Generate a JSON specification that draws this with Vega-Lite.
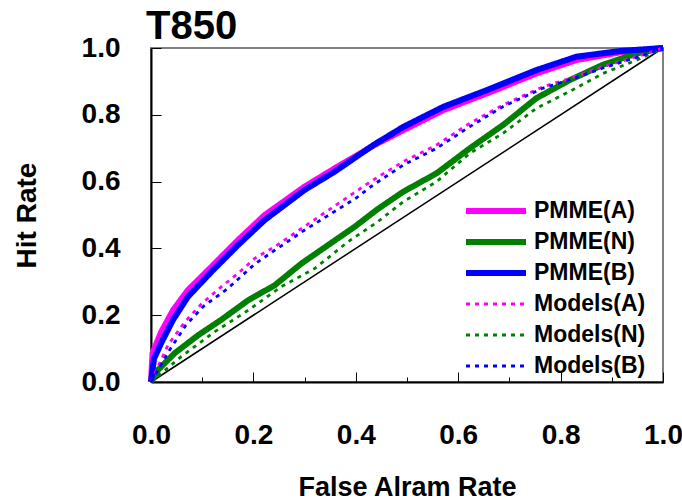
{
  "$schema": "https://vega.github.io/schema/vega-lite/v6.json",
  "autosize": {"type": "none"},
  "width": 512,
  "height": 334,
  "padding": {"left": 151, "top": 48, "right": 19, "bottom": 120},
  "background": "white",
  "config": {
    "font": "Liberation Sans",
    "view": {"stroke": "#808080", "strokeWidth": 2}
  },
  "title": {
    "text": "T850",
    "anchor": "start",
    "frame": "group",
    "fontSize": 40,
    "fontWeight": "bold",
    "font": "Liberation Sans",
    "color": "black",
    "offset": -13,
    "dx": -5
  },
  "datasets": {
    "diag": [{"far": 0, "hr": 0}, {"far": 1, "hr": 1}],
    "roc": [
      {"series": "PMME(A)", "far": 0, "hr": 0},
      {"series": "PMME(A)", "far": 0.003, "hr": 0.087},
      {"series": "PMME(A)", "far": 0.02, "hr": 0.15},
      {"series": "PMME(A)", "far": 0.043, "hr": 0.215},
      {"series": "PMME(A)", "far": 0.072, "hr": 0.275},
      {"series": "PMME(A)", "far": 0.118, "hr": 0.345},
      {"series": "PMME(A)", "far": 0.17, "hr": 0.425},
      {"series": "PMME(A)", "far": 0.222, "hr": 0.5},
      {"series": "PMME(A)", "far": 0.3, "hr": 0.585},
      {"series": "PMME(A)", "far": 0.359, "hr": 0.64},
      {"series": "PMME(A)", "far": 0.437, "hr": 0.71},
      {"series": "PMME(A)", "far": 0.493, "hr": 0.754},
      {"series": "PMME(A)", "far": 0.571, "hr": 0.814},
      {"series": "PMME(A)", "far": 0.656, "hr": 0.864},
      {"series": "PMME(A)", "far": 0.753, "hr": 0.924},
      {"series": "PMME(A)", "far": 0.831, "hr": 0.964},
      {"series": "PMME(A)", "far": 0.916, "hr": 0.987},
      {"series": "PMME(A)", "far": 1, "hr": 1},

      {"series": "PMME(N)", "far": 0, "hr": 0},
      {"series": "PMME(N)", "far": 0.0137, "hr": 0.036},
      {"series": "PMME(N)", "far": 0.046, "hr": 0.086},
      {"series": "PMME(N)", "far": 0.092, "hr": 0.14},
      {"series": "PMME(N)", "far": 0.137, "hr": 0.186},
      {"series": "PMME(N)", "far": 0.19, "hr": 0.245},
      {"series": "PMME(N)", "far": 0.242, "hr": 0.29},
      {"series": "PMME(N)", "far": 0.294, "hr": 0.355},
      {"series": "PMME(N)", "far": 0.346, "hr": 0.41},
      {"series": "PMME(N)", "far": 0.398, "hr": 0.465},
      {"series": "PMME(N)", "far": 0.443, "hr": 0.518},
      {"series": "PMME(N)", "far": 0.493, "hr": 0.57},
      {"series": "PMME(N)", "far": 0.558, "hr": 0.625},
      {"series": "PMME(N)", "far": 0.623, "hr": 0.7},
      {"series": "PMME(N)", "far": 0.688, "hr": 0.77},
      {"series": "PMME(N)", "far": 0.753, "hr": 0.85},
      {"series": "PMME(N)", "far": 0.818, "hr": 0.904},
      {"series": "PMME(N)", "far": 0.883, "hr": 0.95},
      {"series": "PMME(N)", "far": 0.949, "hr": 0.984},
      {"series": "PMME(N)", "far": 1, "hr": 1},

      {"series": "PMME(B)", "far": 0, "hr": 0},
      {"series": "PMME(B)", "far": 0.006, "hr": 0.07},
      {"series": "PMME(B)", "far": 0.02, "hr": 0.117},
      {"series": "PMME(B)", "far": 0.043, "hr": 0.186},
      {"series": "PMME(B)", "far": 0.072, "hr": 0.255},
      {"series": "PMME(B)", "far": 0.118, "hr": 0.33},
      {"series": "PMME(B)", "far": 0.17, "hr": 0.41},
      {"series": "PMME(B)", "far": 0.222, "hr": 0.485},
      {"series": "PMME(B)", "far": 0.3, "hr": 0.575},
      {"series": "PMME(B)", "far": 0.359, "hr": 0.63},
      {"series": "PMME(B)", "far": 0.437, "hr": 0.712},
      {"series": "PMME(B)", "far": 0.493, "hr": 0.764},
      {"series": "PMME(B)", "far": 0.571, "hr": 0.824},
      {"series": "PMME(B)", "far": 0.656, "hr": 0.874},
      {"series": "PMME(B)", "far": 0.753, "hr": 0.934},
      {"series": "PMME(B)", "far": 0.831, "hr": 0.974},
      {"series": "PMME(B)", "far": 0.916, "hr": 0.991},
      {"series": "PMME(B)", "far": 1, "hr": 1},

      {"series": "Models(A)", "far": 0, "hr": 0},
      {"series": "Models(A)", "far": 0.033, "hr": 0.11},
      {"series": "Models(A)", "far": 0.066, "hr": 0.18},
      {"series": "Models(A)", "far": 0.1, "hr": 0.236},
      {"series": "Models(A)", "far": 0.141, "hr": 0.29},
      {"series": "Models(A)", "far": 0.17, "hr": 0.325},
      {"series": "Models(A)", "far": 0.2025, "hr": 0.37},
      {"series": "Models(A)", "far": 0.242, "hr": 0.405},
      {"series": "Models(A)", "far": 0.297, "hr": 0.463},
      {"series": "Models(A)", "far": 0.352, "hr": 0.52},
      {"series": "Models(A)", "far": 0.395, "hr": 0.565},
      {"series": "Models(A)", "far": 0.434, "hr": 0.605},
      {"series": "Models(A)", "far": 0.493, "hr": 0.66},
      {"series": "Models(A)", "far": 0.558, "hr": 0.71},
      {"series": "Models(A)", "far": 0.623, "hr": 0.775},
      {"series": "Models(A)", "far": 0.688, "hr": 0.83},
      {"series": "Models(A)", "far": 0.766, "hr": 0.884},
      {"series": "Models(A)", "far": 0.818, "hr": 0.909},
      {"series": "Models(A)", "far": 0.883, "hr": 0.944},
      {"series": "Models(A)", "far": 0.949, "hr": 0.974},
      {"series": "Models(A)", "far": 1, "hr": 1},

      {"series": "Models(N)", "far": 0, "hr": 0},
      {"series": "Models(N)", "far": 0.059, "hr": 0.076},
      {"series": "Models(N)", "far": 0.124, "hr": 0.15},
      {"series": "Models(N)", "far": 0.19, "hr": 0.215},
      {"series": "Models(N)", "far": 0.254, "hr": 0.285},
      {"series": "Models(N)", "far": 0.32, "hr": 0.34},
      {"series": "Models(N)", "far": 0.385, "hr": 0.42},
      {"series": "Models(N)", "far": 0.443, "hr": 0.48},
      {"series": "Models(N)", "far": 0.493, "hr": 0.54},
      {"series": "Models(N)", "far": 0.558, "hr": 0.6},
      {"series": "Models(N)", "far": 0.623, "hr": 0.685},
      {"series": "Models(N)", "far": 0.688, "hr": 0.745},
      {"series": "Models(N)", "far": 0.753, "hr": 0.82},
      {"series": "Models(N)", "far": 0.818, "hr": 0.87},
      {"series": "Models(N)", "far": 0.883, "hr": 0.924},
      {"series": "Models(N)", "far": 0.949, "hr": 0.964},
      {"series": "Models(N)", "far": 1, "hr": 1},

      {"series": "Models(B)", "far": 0, "hr": 0},
      {"series": "Models(B)", "far": 0.036, "hr": 0.095},
      {"series": "Models(B)", "far": 0.068, "hr": 0.17},
      {"series": "Models(B)", "far": 0.102, "hr": 0.226},
      {"series": "Models(B)", "far": 0.15, "hr": 0.28},
      {"series": "Models(B)", "far": 0.204, "hr": 0.355},
      {"series": "Models(B)", "far": 0.298, "hr": 0.453},
      {"series": "Models(B)", "far": 0.4, "hr": 0.55},
      {"series": "Models(B)", "far": 0.434, "hr": 0.59},
      {"series": "Models(B)", "far": 0.493, "hr": 0.65},
      {"series": "Models(B)", "far": 0.558, "hr": 0.7},
      {"series": "Models(B)", "far": 0.623, "hr": 0.765},
      {"series": "Models(B)", "far": 0.688, "hr": 0.825},
      {"series": "Models(B)", "far": 0.766, "hr": 0.88},
      {"series": "Models(B)", "far": 0.818, "hr": 0.905},
      {"series": "Models(B)", "far": 0.883, "hr": 0.94},
      {"series": "Models(B)", "far": 0.949, "hr": 0.972},
      {"series": "Models(B)", "far": 1, "hr": 1}
    ]
  },
  "layer": [
    {
      "data": {"name": "diag"},
      "mark": {"type": "line", "color": "black", "strokeWidth": 1.5},
      "encoding": {
        "x": {"field": "far", "type": "quantitative"},
        "y": {"field": "hr", "type": "quantitative"}
      }
    },
    {
      "data": {"name": "roc"},
      "mark": {"type": "line"},
      "encoding": {
        "x": {
          "field": "far",
          "type": "quantitative",
          "scale": {"domain": [0, 1], "nice": false},
          "axis": {
            "title": "False Alram Rate",
            "titleFontSize": 27,
            "titleFontWeight": "bold",
            "titleColor": "black",
            "titlePadding": 20,
            "values": [0, 0.1, 0.2, 0.3, 0.4, 0.5, 0.6, 0.7, 0.8, 0.9, 1],
            "labelExpr": "round(datum.value*10)%2==0 ? format(datum.value,'.1f') : ''",
            "labelFontSize": 28,
            "labelFontWeight": "bold",
            "labelColor": "black",
            "labelPadding": 49,
            "labelFlush": false,
            "labelOverlap": false,
            "tickSize": {"condition": {"test": "round(datum.value*10)%2==0", "value": -10}, "value": -5},
            "tickColor": "black",
            "tickWidth": 1,
            "domainColor": "black",
            "domainWidth": 2,
            "grid": false
          }
        },
        "y": {
          "field": "hr",
          "type": "quantitative",
          "scale": {"domain": [0, 1], "nice": false},
          "axis": {
            "title": "Hit Rate",
            "titleFontSize": 28,
            "titleFontWeight": "bold",
            "titleColor": "black",
            "titlePadding": 40,
            "values": [0, 0.1, 0.2, 0.3, 0.4, 0.5, 0.6, 0.7, 0.8, 0.9, 1],
            "labelExpr": "round(datum.value*10)%2==0 ? format(datum.value,'.1f') : ''",
            "labelFontSize": 28,
            "labelFontWeight": "bold",
            "labelColor": "black",
            "labelPadding": 41,
            "labelFlush": false,
            "labelOverlap": false,
            "tickSize": {"condition": {"test": "round(datum.value*10)%2==0", "value": -10}, "value": -5},
            "tickColor": "black",
            "tickWidth": 1,
            "domainColor": "black",
            "domainWidth": 2,
            "grid": false
          }
        },
        "color": {
          "field": "series",
          "type": "nominal",
          "scale": {
            "domain": ["PMME(A)", "PMME(N)", "PMME(B)", "Models(A)", "Models(N)", "Models(B)"],
            "range": ["#ff00ff", "#008000", "#0000ff", "#ff00ff", "#008000", "#0000ff"]
          },
          "legend": {
            "title": null,
            "orient": "none",
            "legendX": 312,
            "legendY": 152,
            "symbolType": "stroke",
            "symbolSize": 3600,
            "labelFontSize": 23,
            "labelFontWeight": "bold",
            "labelColor": "black",
            "labelLimit": 300,
            "labelOffset": 5,
            "rowPadding": 8,
            "clipHeight": 22
          }
        },
        "strokeDash": {
          "field": "series",
          "type": "nominal",
          "scale": {
            "domain": ["PMME(A)", "PMME(N)", "PMME(B)", "Models(A)", "Models(N)", "Models(B)"],
            "range": [[1, 0], [1, 0], [1, 0], [4, 5], [4, 5], [4, 5]]
          },
          "legend": null
        },
        "strokeWidth": {
          "field": "series",
          "type": "nominal",
          "scale": {
            "type": "ordinal",
            "domain": ["PMME(A)", "PMME(N)", "PMME(B)", "Models(A)", "Models(N)", "Models(B)"],
            "range": [6, 6, 6, 2.8, 2.8, 2.8]
          },
          "legend": null
        }
      }
    }
  ]
}
